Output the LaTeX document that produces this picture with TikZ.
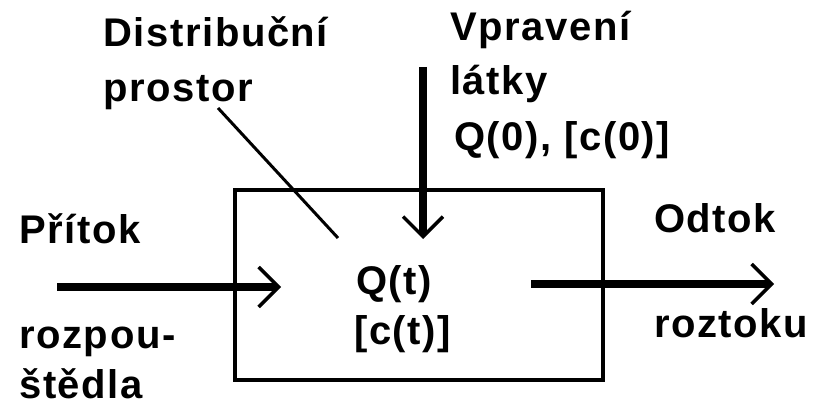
\documentclass[tikz,border=0pt]{standalone}
\usepackage{fontspec}
\setmainfont[LetterSpace=4]{Liberation Sans Bold}
\usetikzlibrary{arrows.meta}
\tikzset{
  lbl/.style={anchor=base west, inner sep=0pt, font=\fontsize{40}{47}\selectfont},
  flow/.style={line width=8pt, -{Straight Barb[length=20pt, width=40pt, line width=3.5pt]}},
  pointer/.style={line width=3pt},
  boxst/.style={draw, line width=4pt, minimum width=368pt, minimum height=190pt, inner sep=0pt}
}
\begin{document}
\begin{tikzpicture}[x=1pt, y=-1pt]
\useasboundingbox (0,0) rectangle (816,406);
\node[boxst] (box) at (419,285) {};
% labels
\node[lbl] (dist) at (103,47) {Distribuční};
\node[lbl] (pros) at (103,102) {prostor};
\node[lbl] (vpr) at (450,41) {Vpravení};
\node[lbl] (lat) at (450,95) {látky};
\node[lbl] (q0) at (454,151) {Q(0), [c(0)]};
\node[lbl] (pri) at (19,243) {Přítok};
\node[lbl] (roz) at (19,348) {rozpou-};
\node[lbl] (ste) at (19,398) {štědla};
\node[lbl] (odt) at (654,233) {Odtok};
\node[lbl] (rzt) at (654,337) {roztoku};
\node[lbl] (qt) at (356,294) {Q(t)};
\node[lbl] (ct) at (354,344) {[c(t)]};
% connector ends
\coordinate (inS) at (57,287);
\coordinate (inE) at (281,287);
\coordinate (outS) at (531,284);
\coordinate (outE) at (774,284);
\coordinate (dnS) at (423,67);
\coordinate (dnE) at (423,239);
\coordinate (pS) at (218,108);
\coordinate (pE) at (338,238);
\draw[flow] (inS) -- (inE);
\draw[flow] (outS) -- (outE);
\draw[flow] (dnS) -- (dnE);
\draw[pointer] (pS) -- (pE);
\end{tikzpicture}
\end{document}
